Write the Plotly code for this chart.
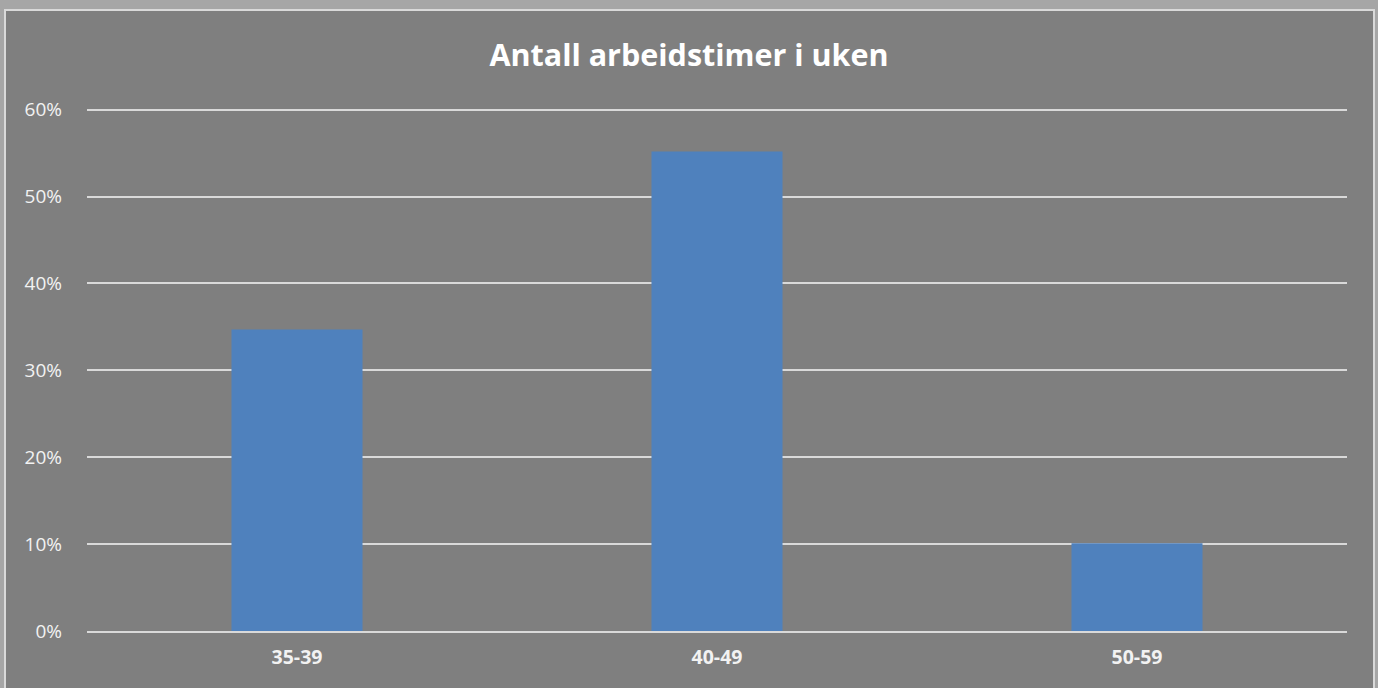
import plotly.graph_objects as go

categories = ["35-39", "40-49", "50-59"]
values = [0.347, 0.552, 0.101]
title = "Antall arbeidstimer i uken"

W, H = 1378, 688
YMAX = 0.61
L, R, B = 87, 31, 57
ph = round(521 * YMAX / 0.6)
T = H - B - ph
pw = W - L - R

def px_x(x):
    return (x - L) / pw

def px_y(y):
    return (H - B - y) / ph

fig = go.Figure(go.Bar(x=categories, y=values, marker=dict(color="#4F81BD", line=dict(width=0)),
                       width=0.312))

fig.add_shape(type="rect", xref="paper", yref="paper", layer="below",
              x0=px_x(5), x1=px_x(1374), y0=px_y(700), y1=px_y(10),
              fillcolor="#7F7F7F", line=dict(color="#D9D9D9", width=2))

fig.update_layout(
    width=W, height=H,
    margin=dict(l=L, r=R, t=T, b=B),
    paper_bgcolor="#A6A6A6",
    plot_bgcolor="rgba(0,0,0,0)",
    title=dict(text="<b>" + title + "</b>", x=0.5, xref="container", xanchor="center",
               y=1 - 55 / H, yanchor="middle",
               font=dict(family="Open Sans", size=30.5, color="#FFFFFF")),
    font=dict(family="Open Sans", color="#F2F2F2"),
    showlegend=False,
    bargap=0.688,
)
fig.update_yaxes(range=[0, YMAX], tickvals=[0, 0.1, 0.2, 0.3, 0.4, 0.5, 0.6],
                 tickformat=".0%", showgrid=True,
                 gridcolor="#D9D9D9", gridwidth=2, zeroline=False, showline=False,
                 tickfont=dict(size=19, color="#F2F2F2"), ticklabelstandoff=24)
fig.update_xaxes(showgrid=False, showline=True, linecolor="#D9D9D9", linewidth=2,
                 tickfont=dict(size=19.5, color="#F2F2F2", family="Open Sans"),
                 ticklabelstandoff=8, tickprefix="<b>", ticksuffix="</b>")

fig.write_html("out.html", config={"displayModeBar": False},
               post_script="document.body.style.margin='0';document.body.style.overflow='hidden';")
